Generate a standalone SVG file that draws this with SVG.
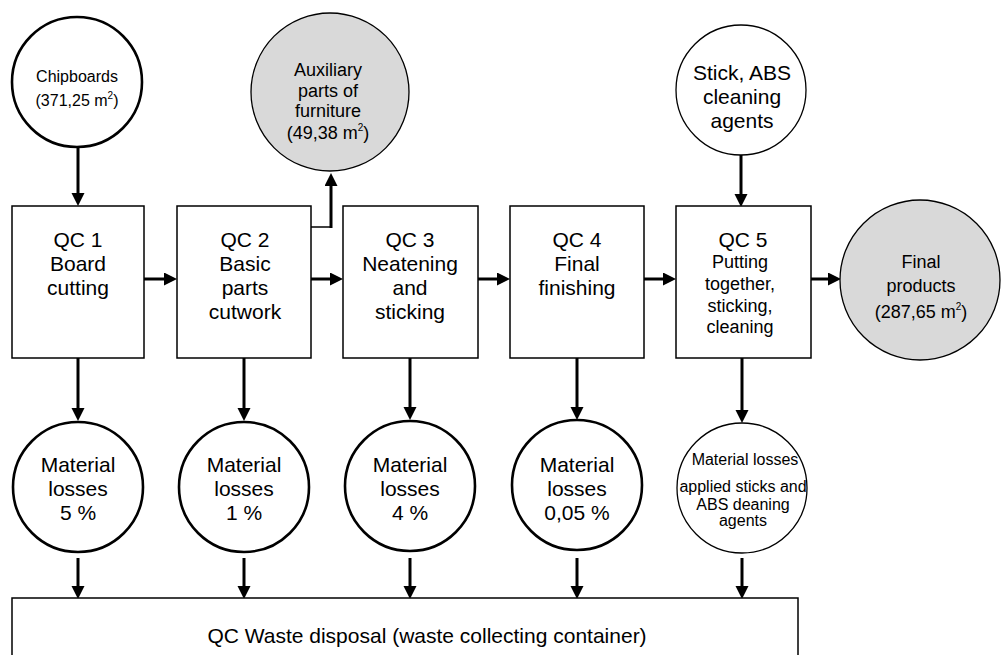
<svg xmlns="http://www.w3.org/2000/svg" width="1002" height="655" viewBox="0 0 1002 655">
  <style>
    text { font-family: "Liberation Sans", Arial, sans-serif; fill: #000; text-anchor: middle; }
    .box { fill: #fff; stroke: #000; stroke-width: 1.5; }
    .ring { fill: #fff; stroke: #000; stroke-width: 2.6; }
    .thin { fill: #fff; stroke: #000; stroke-width: 1.3; }
    .grey { fill: #d9d9d9; stroke: #000; stroke-width: 1.3; }
    .flow { stroke: #000; stroke-width: 3; fill: none; marker-end: url(#head); }
    .f21 { font-size: 21px; }
    .f18 { font-size: 18px; }
    .f16 { font-size: 16px; }
    .sup { font-size: 10px; }
  </style>
  <defs>
    <marker id="head" markerUnits="userSpaceOnUse" markerWidth="14" markerHeight="14" refX="6" refY="6.5" orient="auto">
      <path d="M0,0 L13,6.5 L0,13 z" fill="#000"/>
    </marker>
  </defs>

  <!-- connectors -->
  <g id="connectors">
    <line class="flow" x1="78" y1="148" x2="78" y2="199"/>
    <line class="flow" x1="741" y1="155" x2="741" y2="200"/>
    <line class="flow" x1="144" y1="279" x2="170" y2="279"/>
    <line class="flow" x1="311" y1="279" x2="336" y2="279"/>
    <line class="flow" x1="478" y1="279" x2="503" y2="279"/>
    <line class="flow" x1="644" y1="279" x2="669" y2="279"/>
    <line class="flow" x1="811" y1="279" x2="834" y2="279"/>
    <line x1="311" y1="227" x2="332" y2="227" stroke="#000" stroke-width="1.5"/>
    <line class="flow" x1="331" y1="228" x2="331" y2="180"/>
    <line class="flow" x1="78" y1="358" x2="78" y2="414"/>
    <line class="flow" x1="244" y1="358" x2="244" y2="414"/>
    <line class="flow" x1="410" y1="358" x2="410" y2="413"/>
    <line class="flow" x1="577" y1="358" x2="577" y2="413"/>
    <line class="flow" x1="742" y1="358" x2="742" y2="416"/>
    <line class="flow" x1="78" y1="558" x2="78" y2="592"/>
    <line class="flow" x1="244" y1="558" x2="244" y2="592"/>
    <line class="flow" x1="410" y1="558" x2="410" y2="592"/>
    <line class="flow" x1="577" y1="558" x2="577" y2="592"/>
    <line class="flow" x1="742" y1="558" x2="742" y2="592"/>
  </g>

  <!-- inputs -->
  <g id="chipboards">
    <circle class="ring" cx="77" cy="82" r="65"/>
    <text class="f16" x="77" y="82">Chipboards</text>
    <text class="f16" x="77" y="106">(371,25 m<tspan class="sup" dy="-7">2</tspan><tspan dy="7">)</tspan></text>
  </g>
  <g id="auxiliary">
    <circle class="grey" cx="330" cy="92" r="79"/>
    <text class="f18" x="328" y="76">Auxiliary</text>
    <text class="f18" x="328" y="97">parts of</text>
    <text class="f18" x="328" y="117">furniture</text>
    <text class="f18" x="328" y="139">(49,38 m<tspan class="sup" dy="-8">2</tspan><tspan dy="8">)</tspan></text>
  </g>
  <g id="stick">
    <circle class="thin" cx="741" cy="90" r="65"/>
    <text class="f21" x="742" y="80">Stick, ABS</text>
    <text class="f21" x="742" y="104">cleaning</text>
    <text class="f21" x="742" y="128">agents</text>
  </g>

  <!-- process steps -->
  <g id="qc1">
    <rect class="box" x="12" y="206" width="132" height="152"/>
    <text class="f21" x="78" y="247">QC 1</text>
    <text class="f21" x="78" y="271">Board</text>
    <text class="f21" x="78" y="295">cutting</text>
  </g>
  <g id="qc2">
    <rect class="box" x="177" y="206" width="134" height="152"/>
    <text class="f21" x="245" y="247">QC 2</text>
    <text class="f21" x="245" y="271">Basic</text>
    <text class="f21" x="245" y="295">parts</text>
    <text class="f21" x="245" y="319">cutwork</text>
  </g>
  <g id="qc3">
    <rect class="box" x="343" y="206" width="135" height="152"/>
    <text class="f21" x="410" y="247">QC 3</text>
    <text class="f21" x="410" y="271">Neatening</text>
    <text class="f21" x="410" y="295">and</text>
    <text class="f21" x="410" y="319">sticking</text>
  </g>
  <g id="qc4">
    <rect class="box" x="510" y="206" width="134" height="152"/>
    <text class="f21" x="577" y="247">QC 4</text>
    <text class="f21" x="577" y="271">Final</text>
    <text class="f21" x="577" y="295">finishing</text>
  </g>
  <g id="qc5">
    <rect class="box" x="676" y="206" width="135" height="152"/>
    <text class="f21" x="743" y="247">QC 5</text>
    <text class="f18" x="740" y="268">Putting</text>
    <text class="f18" x="740" y="290">together,</text>
    <text class="f18" x="740" y="312">sticking,</text>
    <text class="f18" x="740" y="333">cleaning</text>
  </g>

  <!-- output -->
  <g id="final">
    <circle class="grey" cx="920" cy="280" r="80"/>
    <text class="f18" x="921" y="268">Final</text>
    <text class="f18" x="921" y="292">products</text>
    <text class="f18" x="921" y="318">(287,65 m<tspan class="sup" dy="-8">2</tspan><tspan dy="8">)</tspan></text>
  </g>

  <!-- losses -->
  <g id="loss1">
    <circle class="ring" cx="78" cy="487" r="65"/>
    <text class="f21" x="78" y="472">Material</text>
    <text class="f21" x="78" y="496">losses</text>
    <text class="f21" x="78" y="520">5 %</text>
  </g>
  <g id="loss2">
    <circle class="ring" cx="244" cy="487" r="65"/>
    <text class="f21" x="244" y="472">Material</text>
    <text class="f21" x="244" y="496">losses</text>
    <text class="f21" x="244" y="520">1 %</text>
  </g>
  <g id="loss3">
    <circle class="ring" cx="410" cy="486" r="65"/>
    <text class="f21" x="410" y="472">Material</text>
    <text class="f21" x="410" y="496">losses</text>
    <text class="f21" x="410" y="520">4 %</text>
  </g>
  <g id="loss4">
    <circle class="ring" cx="577" cy="485" r="65"/>
    <text class="f21" x="577" y="472">Material</text>
    <text class="f21" x="577" y="496">losses</text>
    <text class="f21" x="577" y="520">0,05 %</text>
  </g>
  <g id="loss5">
    <circle class="thin" cx="742" cy="488" r="65"/>
    <text class="f16" x="745" y="465">Material losses</text>
    <text class="f16" x="743" y="492">applied sticks and</text>
    <text class="f16" x="743" y="510">ABS deaning</text>
    <text class="f16" x="743" y="526">agents</text>
  </g>

  <!-- waste collection -->
  <g id="waste">
    <rect class="box" x="12" y="598" width="786" height="80"/>
    <text class="f21" x="427" y="643">QC Waste disposal (waste collecting container)</text>
  </g>
</svg>
